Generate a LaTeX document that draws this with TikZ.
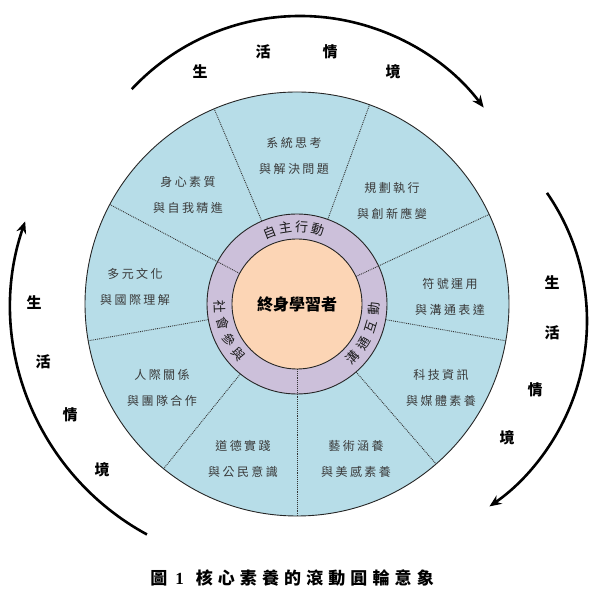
\documentclass[tikz,border=0pt]{standalone}
\usepackage{fontspec}
\usetikzlibrary{calc,arrows.meta}
\newfontfamily\cjk{Noto Sans CJK TC}
\newfontfamily\cjksp[LetterSpace=20]{Noto Sans CJK TC}
\newfontfamily\cjkcap[LetterSpace=30]{Noto Sans CJK TC}
\newfontfamily\numfont{Liberation Serif}
\definecolor{sky}{HTML}{B7DDE8}
\definecolor{lilac}{HTML}{CCC0DA}
\definecolor{peach}{HTML}{FCD5B5}
\definecolor{ink}{HTML}{3A3A3A}
\begin{document}
\begin{tikzpicture}[x=1pt,y=1pt,
  lbl/.style={font=\fontsize{12}{26}\cjksp, text=ink, align=center, inner sep=0pt},
  ringch/.style={font=\fontsize{13}{13}\cjk, inner sep=0pt, text=black!90},
  outch/.style={font=\fontsize{15}{15}\cjk\bfseries, inner sep=0pt},
  sepline/.style={densely dotted, line width=0.9pt, draw=black!80},
  disc/.style={circle, inner sep=0pt, line width=0.9pt, draw=black!85},
  bigarrow/.style={line width=2.6pt, -{Stealth[length=12pt,width=10pt]}}]
\useasboundingbox (0,0) rectangle (605,607);
\coordinate (C) at (297,303);
\node[disc, fill=sky, minimum size=424pt] (outer) at (C) {};
\node[disc, fill=lilac, minimum size=180pt] (ring) at (C) {};
\foreach \a in {70,113,190,231,311,350}
  \draw[sepline] ($(C)+(\a:90)$) -- ($(C)+(\a:212)$);
\foreach \a in {25,152,270}
  \draw[sepline] ($(C)+(\a:65)$) -- ($(C)+(\a:212)$);
\node[disc, fill=peach, minimum size=130pt, font=\fontsize{16}{16}\cjk\bfseries] (core) at (C) {終身學習者};

% sector labels
\node[lbl] (s1) at (294,451.5) {系統思考\\與解決問題};
\node[lbl] (s2) at (188,411.5) {身心素質\\與自我精進};
\node[lbl] (s3) at (392,406) {規劃執行\\與創新應變};
\node[lbl] (s4) at (135,320.5) {多元文化\\與國際理解};
\node[lbl] (s5) at (450,310.5) {符號運用\\與溝通表達};
\node[lbl] (s6) at (162,219.5) {人際關係\\與團隊合作};
\node[lbl] (s7) at (441,219.5) {科技資訊\\與媒體素養};
\node[lbl] (s8) at (243,148.5) {道德實踐\\與公民意識};
\node[lbl] (s9) at (356,148.5) {藝術涵養\\與美感素養};

% ring labels
\foreach \ch/\a [count=\i] in {自/111,主/98.8,行/86.6,動/74.4}
  \node[ringch, rotate=\a-90] (ta\i) at ($(C)+(\a:77)$) {\ch};
\foreach \ch/\a [count=\i] in {溝/-44,通/-30.5,互/-17,動/-3.5}
  \node[ringch, rotate=\a+90] (tb\i) at ($(C)+(\a:77)$) {\ch};
\foreach \ch/\a [count=\i] in {社/182,會/195,參/208,與/221}
  \node[ringch, rotate=\a+90] (tc\i) at ($(C)+(\a:77)$) {\ch};

% outer arrows
\draw[bigarrow] ($(300,361)+(137:230)$) arc[start angle=137,end angle=37,radius=230];
\draw[bigarrow] ($(271,301)+(241.5:260)$) arc[start angle=241.5,end angle=161,radius=260];
\draw[bigarrow] ($(362,286)+(34.7:225)$) arc[start angle=34.7,end angle=-55.5,radius=225];

% outer words
\node[outch] (u1) at (200,535) {生};
\node[outch] (u2) at (263,555) {活};
\node[outch] (u3) at (330,555) {情};
\node[outch] (u4) at (393,535) {境};
\node[outch] (l1) at (34,304) {生};
\node[outch] (l2) at (43,245) {活};
\node[outch] (l3) at (70,192) {情};
\node[outch] (l4) at (102,137) {境};
\node[outch] (r1) at (552,324) {生};
\node[outch] (r2) at (552,274) {活};
\node[outch] (r3) at (535,217) {情};
\node[outch] (r4) at (507,169) {境};

% caption
\node[inner sep=0pt] (cap) at (292,29) {\fontsize{17}{17}\cjk\bfseries 圖\kern8pt{\numfont\bfseries 1}\kern12pt{\cjkcap\bfseries 核心素養的滾動圓輪意象}};
\end{tikzpicture}
\end{document}
